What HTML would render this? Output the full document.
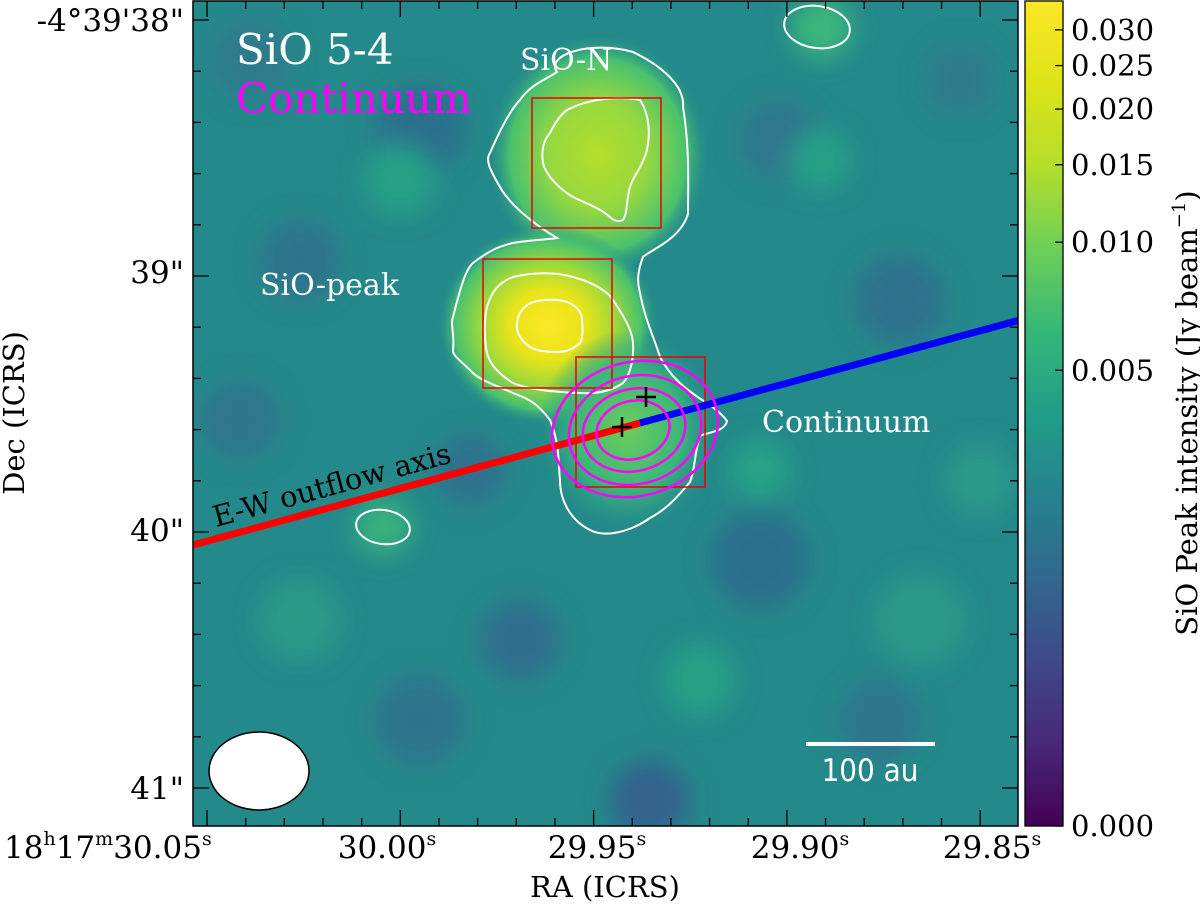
<!DOCTYPE html>
<html><head><meta charset="utf-8"><style>
body{margin:0;background:#fff;width:1200px;height:907px;overflow:hidden;font-family:"DejaVu Serif","Liberation Serif",serif}
svg text{font-family:"DejaVu Serif","Liberation Serif",serif}
</style></head><body>
<svg width="1200" height="907" viewBox="0 0 1200 907">
<defs>
<clipPath id="cp"><rect x="193" y="1" width="825" height="825"/></clipPath>
<filter id="bl" x="-50%" y="-50%" width="200%" height="200%"><feGaussianBlur stdDeviation="12"/></filter>
<radialGradient id="gPeak"><stop offset="0" stop-color="#fde725"/><stop offset="0.35" stop-color="#e8e419"/><stop offset="0.6" stop-color="#a0da39"/><stop offset="0.85" stop-color="#4ac16d"/><stop offset="1" stop-color="#2a9a88" stop-opacity="0"/></radialGradient>
<radialGradient id="gN"><stop offset="0" stop-color="#b5de2b"/><stop offset="0.45" stop-color="#95d840"/><stop offset="0.8" stop-color="#4ac16d"/><stop offset="1" stop-color="#2a9a88" stop-opacity="0"/></radialGradient>
<radialGradient id="gC"><stop offset="0" stop-color="#6ccd5a"/><stop offset="0.6" stop-color="#3bb77a"/><stop offset="1" stop-color="#2a9a88" stop-opacity="0"/></radialGradient>
<linearGradient id="vir" x1="0" y1="1" x2="0" y2="0">
<stop offset="0" stop-color="#440154"/><stop offset="0.1" stop-color="#482878"/><stop offset="0.2" stop-color="#3e4989"/><stop offset="0.3" stop-color="#31688e"/><stop offset="0.4" stop-color="#26828e"/><stop offset="0.5" stop-color="#1f9e89"/><stop offset="0.6" stop-color="#35b779"/><stop offset="0.7" stop-color="#6ece58"/><stop offset="0.8" stop-color="#b5de2b"/><stop offset="0.9" stop-color="#dde318"/><stop offset="1" stop-color="#fde725"/>
</linearGradient>
</defs>

<g clip-path="url(#cp)">
<rect x="193" y="1" width="825" height="825" fill="#24898a"/>
<g filter="url(#bl)">
<circle cx="250" cy="60" r="40" fill="#2f7a8c"/><circle cx="420" cy="130" r="45" fill="#2c6f8d"/>
<circle cx="400" cy="180" r="35" fill="#28a086"/><circle cx="300" cy="260" r="40" fill="#2e738d"/>
<circle cx="780" cy="140" r="40" fill="#2e778d"/><circle cx="820" cy="160" r="30" fill="#25a087"/>
<circle cx="900" cy="300" r="45" fill="#2d718d"/><circle cx="960" cy="80" r="35" fill="#2f7a8c"/>
<circle cx="760" cy="560" r="50" fill="#2c6f8d"/><circle cx="920" cy="620" r="45" fill="#2a998a"/>
<circle cx="520" cy="640" r="40" fill="#2f6e8d"/><circle cx="700" cy="680" r="35" fill="#28a086"/>
<circle cx="300" cy="620" r="40" fill="#2a9a88"/><circle cx="420" cy="720" r="45" fill="#2e738d"/>
<circle cx="650" cy="800" r="40" fill="#33648d"/><circle cx="880" cy="720" r="40" fill="#2e758d"/>
<circle cx="980" cy="480" r="35" fill="#2a998a"/><circle cx="240" cy="420" r="40" fill="#2e768d"/>
<circle cx="470" cy="470" r="35" fill="#2d718d"/><circle cx="822" cy="28" r="30" fill="#3bb77a"/>
<circle cx="383" cy="527" r="28" fill="#38b27c"/><circle cx="760" cy="470" r="30" fill="#27a287"/>
</g>
<ellipse cx="598" cy="155" rx="110" ry="120" fill="url(#gN)"/>
<ellipse cx="548" cy="325" rx="110" ry="100" fill="url(#gPeak)"/>
<ellipse cx="628" cy="430" rx="90" ry="100" fill="url(#gC)"/>

<g fill="none" stroke="#fff" stroke-width="2">
<path d="M557,72 C545,55 590,40 633,52 C660,65 685,85 683,107 C690,150 688,190 688,214 C680,240 650,250 643,257 C636,275 638,285 640,293 C645,320 655,340 660,357 C680,395 712,400 727,421 C725,432 708,432 700,436 C694,455 695,470 690,482 C675,500 665,510 650,518 C630,532 605,538 590,530 C570,520 560,500 560,480 C558,460 560,445 550,420 C535,400 525,398 513,393 C495,385 480,380 473,373 C460,360 452,355 453,350 C455,335 450,325 453,317 C460,290 465,270 473,263 C490,250 500,246 513,243 C530,240 545,240 557,238 C535,225 510,205 500,187 C490,170 485,160 490,153 C500,130 510,110 520,100 C530,85 545,80 557,72Z"/>
<path d="M567,110 C590,98 620,96 640,100 C650,115 650,135 647,150 C642,168 632,178 630,187 C626,200 628,212 623,220 C617,223 612,219 610,217 C600,208 585,203 573,197 C558,188 546,175 543,163 C541,150 544,140 550,133 C555,123 560,115 567,110Z"/>
<path d="M487,307 C492,290 500,282 513,277 C535,272 555,272 573,277 C595,283 608,292 613,300 C625,318 632,330 633,343 C634,360 630,375 623,383 C610,392 595,394 580,393 C555,392 530,390 513,383 C500,375 490,365 487,353 C484,338 484,320 487,307Z"/>
<path d="M517,323 C518,312 525,305 533,302 C545,299 558,299 567,302 C577,306 582,312 582,320 C583,330 583,338 580,343 C572,350 565,352 557,352 C545,352 535,350 530,347 C520,340 516,332 517,323Z"/>
<ellipse cx="817" cy="27" rx="33" ry="21" transform="rotate(8 817 27)"/>
<ellipse cx="383" cy="527" rx="27" ry="17" transform="rotate(8 383 527)"/>
</g>

<g fill="none" stroke="#ee0000" stroke-width="1.5">
<rect x="532" y="98" width="129" height="130"/>
<rect x="483" y="259" width="129" height="129"/>
<rect x="576" y="357" width="129" height="130"/>
</g>

<line x1="193" y1="545" x2="640" y2="423" stroke="#ff0000" stroke-width="7"/>
<line x1="640" y1="423" x2="1020" y2="320" stroke="#0000ff" stroke-width="7"/>

<g fill="none" stroke="#ff00ff" stroke-width="2.5">
<ellipse cx="633" cy="430" rx="37" ry="29" transform="rotate(-15 633 430)"/>
<ellipse cx="634" cy="430" rx="52" ry="41" transform="rotate(-15 634 430)"/>
<ellipse cx="635" cy="430" rx="67" ry="54" transform="rotate(-15 635 430)"/>
<ellipse cx="635" cy="429" rx="84" ry="67" transform="rotate(-15 635 429)"/>
</g>
<g stroke="#000" stroke-width="2.5">
<path d="M612,427h20M622,417v20"/>
<path d="M636,397h20M646,387v20"/>
</g>

<ellipse cx="259" cy="771" rx="50" ry="39" fill="#fff" stroke="#000" stroke-width="1.5"/>
<line x1="806" y1="744" x2="935" y2="744" stroke="#fff" stroke-width="4"/>
<text x="870" y="781" fill="#fff" font-size="31" text-anchor="middle" style="font-family:'DejaVu Sans Condensed','Liberation Sans Narrow',sans-serif">100 au</text>

<text x="236" y="64" fill="#fff" font-size="42">SiO 5-4</text>
<text x="236" y="113" fill="#ff00ff" font-size="42">Continuum</text>
<text x="520" y="70" fill="#fff" font-size="30">SiO-N</text>
<text x="260" y="295" fill="#fff" font-size="30">SiO-peak</text>
<text x="762" y="432" fill="#fff" font-size="30">Continuum</text>
<text x="0" y="0" fill="#000" font-size="29" transform="translate(216,527) rotate(-15.3)">E-W outflow axis</text>
</g>

<rect x="193" y="1" width="825" height="825" fill="none" stroke="#000" stroke-width="1.5"/>
<g id="ticks" stroke="#000" stroke-width="1.3"></g>

<g font-size="31" fill="#000">
<text x="184" y="31" text-anchor="end">-4°39'38"</text>
<text x="184" y="283" text-anchor="end">39"</text>
<text x="184" y="541" text-anchor="end">40"</text>
<text x="184" y="799" text-anchor="end">41"</text>
</g>
<g font-size="31" fill="#000">
<text x="4" y="858">18<tspan font-size="19" dy="-13">h</tspan><tspan dy="13">17</tspan><tspan font-size="19" dy="-13">m</tspan><tspan dy="13">30.05</tspan><tspan font-size="19" dy="-13">s</tspan></text>
<text x="387" y="858" text-anchor="middle">30.00<tspan font-size="19" dy="-13">s</tspan></text>
<text x="597" y="858" text-anchor="middle">29.95<tspan font-size="19" dy="-13">s</tspan></text>
<text x="800" y="858" text-anchor="middle">29.90<tspan font-size="19" dy="-13">s</tspan></text>
<text x="992" y="858" text-anchor="middle">29.85<tspan font-size="19" dy="-13">s</tspan></text>
</g>
<text x="605" y="897" font-size="29" text-anchor="middle">RA (ICRS)</text>
<text x="0" y="0" font-size="29" text-anchor="middle" transform="translate(24,413) rotate(-90)">Dec (ICRS)</text>

<g>
<rect x="1025" y="1" width="38" height="825" fill="url(#vir)" stroke="#000" stroke-width="1.3"/>
<g id="cbticks"></g>
</g>
<text x="0" y="0" font-size="29" text-anchor="middle" transform="translate(1197,413) rotate(-90)">SiO Peak intensity (Jy beam<tspan font-size="18" dy="-12">−1</tspan><tspan dy="12">)</tspan></text>
</svg>
<script>
const cbValues=[0.030,0.025,0.020,0.015,0.010,0.005,0.000];
const cbLabels=["0.030","0.025","0.020","0.015","0.010","0.005","0.000"];
const raMajor=[30.05,30.00,29.95,29.90,29.85];
const decMajor=[38,39,40,41];
const cStretch=0.00057;
function cbY(v){return 826-825*0.965*Math.log(1+v/cStretch)/Math.log(1+0.03/cStretch);}
function raX(s){return 207+(30.05-s)/0.05*193.3;}
function decY(d){return 20+(d-38)*256;}
const NS='http://www.w3.org/2000/svg';
const tg=document.getElementById('ticks');
function ln(g,x1,y1,x2,y2){const l=document.createElementNS(NS,'line');l.setAttribute('x1',x1);l.setAttribute('y1',y1);l.setAttribute('x2',x2);l.setAttribute('y2',y2);


g.appendChild(l);}
for(let i=-1;i<=20;i++){const x=raX(30.05-i*0.01);if(x<194||x>1017)continue;const L=(i%5===0)?16:8;ln(tg,x,826,x,826-L);ln(tg,x,1,x,1+L);}
for(let i=-1;i<=16;i++){const y=decY(38+i*0.2);if(y<2||y>825)continue;const L=(i%5===0)?16:8;ln(tg,193,y,193+L,y);ln(tg,1018,y,1018-L,y);}
const cg=document.getElementById('cbticks');
cbValues.forEach((v,i)=>{const y=cbY(v);
const l=document.createElementNS(NS,'line');l.setAttribute('x1',1055);l.setAttribute('x2',1063);l.setAttribute('y1',y);l.setAttribute('y2',y);l.setAttribute('stroke','#000');l.setAttribute('stroke-width','1.3');


cg.appendChild(l);
const t=document.createElementNS(NS,'text');t.setAttribute('x',1071);t.setAttribute('y',y+10);t.setAttribute('font-size','29');t.textContent=cbLabels[i];


cg.appendChild(t);});
</script>
</body></html>
